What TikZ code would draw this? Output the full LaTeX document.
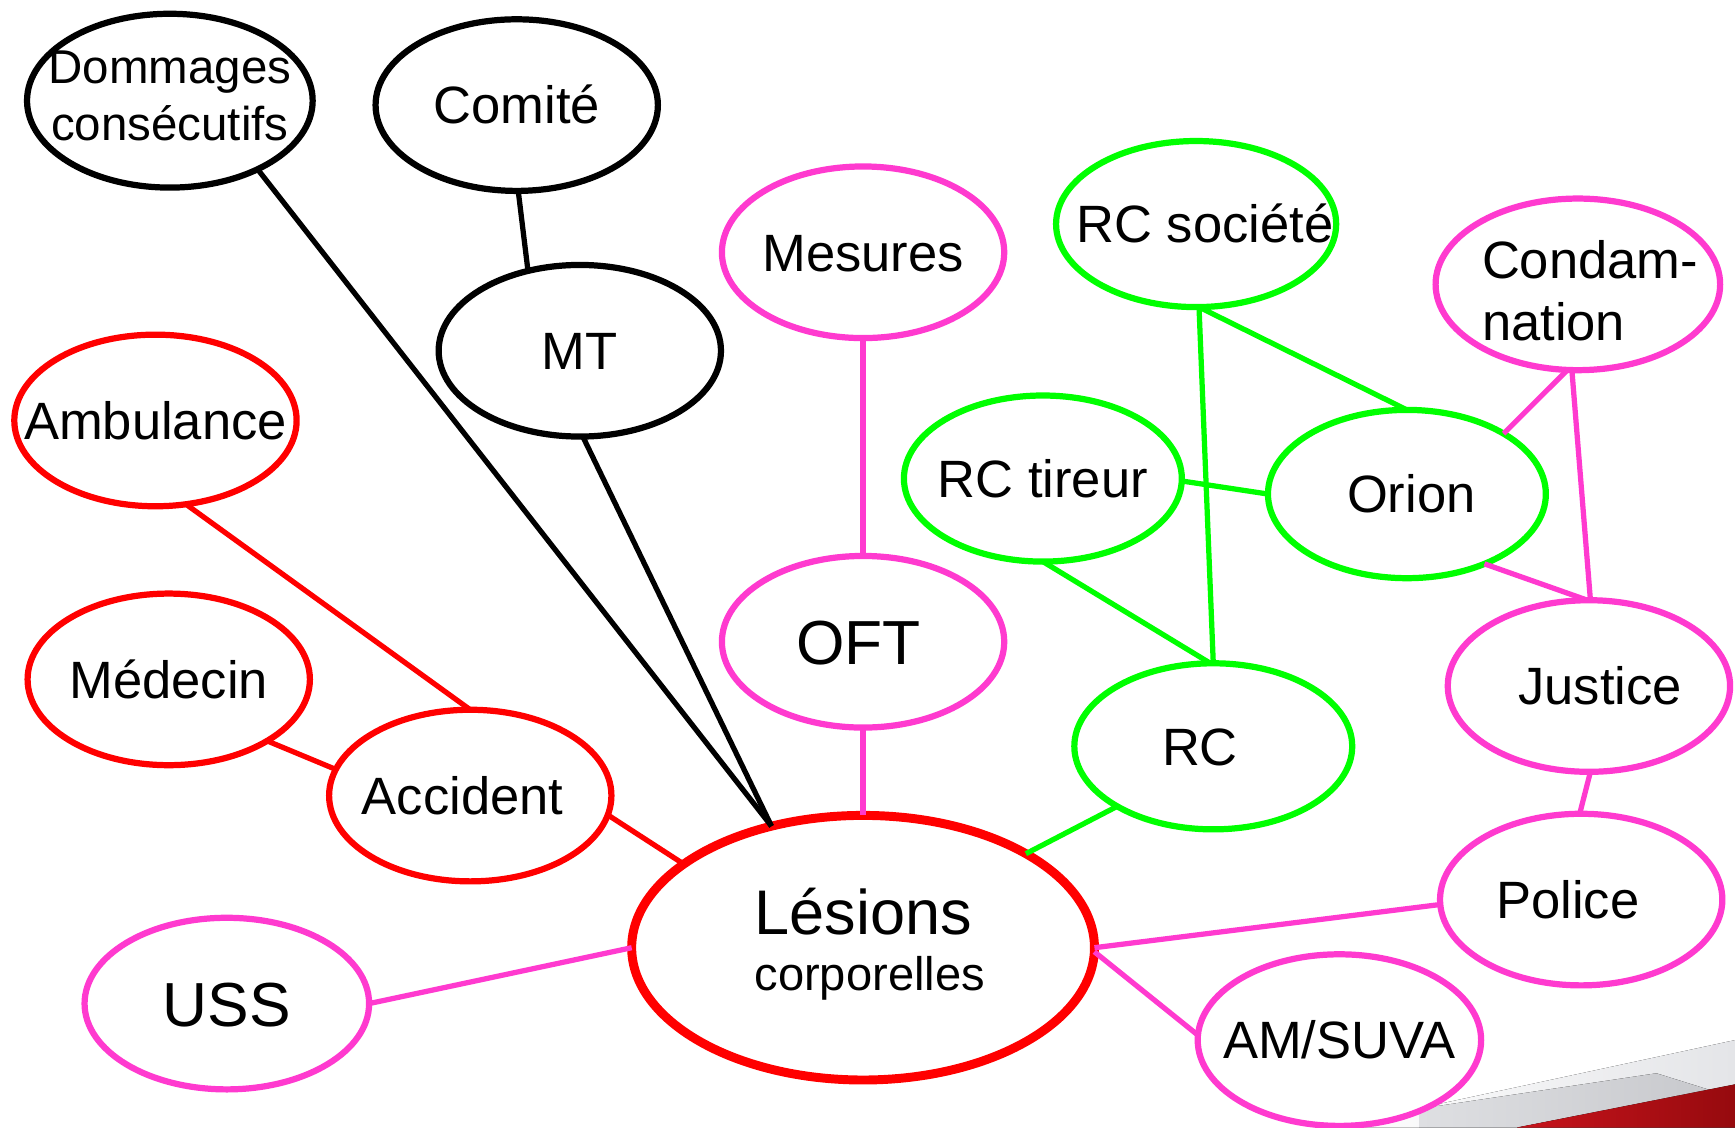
\documentclass[tikz,border=0pt]{standalone}
\usepackage{fontspec}
\setmainfont{Liberation Sans}
\usetikzlibrary{shapes.geometric}
\definecolor{mg}{RGB}{255,58,207}
\definecolor{gr}{RGB}{0,255,0}
\definecolor{rd}{RGB}{255,0,0}
\definecolor{decoredA}{RGB}{200,20,28}
\definecolor{decoredB}{RGB}{150,10,14}
\definecolor{decogreyA}{RGB}{255,255,255}
\definecolor{decogreyB}{RGB}{228,229,232}
\definecolor{decogreyC}{RGB}{222,223,226}
\definecolor{decogreyD}{RGB}{200,201,205}
\newcommand{\tx}[2]{\makebox[0pt]{\hspace*{#1}#2}}
\begin{document}
\begin{tikzpicture}[x=0.01cm,y=-0.01cm,
  el/.style={ellipse,draw=black,line width=1.6pt,fill=white,inner sep=0pt,outer sep=0pt,
    minimum width=2.55cm,minimum height=1.55cm,font=\fontsize{13.5}{16}\selectfont},
  one/.style={text height=0.34cm,text depth=0pt},
  big/.style={text height=0.405cm,text depth=0pt,font=\fontsize{16}{19}\selectfont},
  gel/.style={el,draw=gr,minimum width=2.51cm,minimum height=1.50cm},
  conn/.style={line width=1.35pt}
]
\useasboundingbox (0,0) rectangle (1568,1019);
% background decoration
\fill[left color=decogreyA,right color=decogreyB] (1202,1019) -- (1568,940) -- (1568,1019) -- cycle;
\fill[left color=decogreyC,right color=decogreyD] (1283,1002) -- (1497,970) -- (1545,985) -- (1371,1019) -- (1283,1019) -- cycle;
\fill[left color=decoredA,right color=decoredB] (1371,1019) -- (1568,980) -- (1568,1019) -- cycle;

% nodes
\node[el,minimum width=2.58cm,minimum height=1.57cm] (dom) at (153.5,91)
  {\tx{0pt}{\fontsize{12.2}{14.5}\selectfont\begin{tabular}{@{}c@{}}Dommages\\consécutifs\end{tabular}}};
\node[el,one] (com) at (467,95) {\tx{0pt}{Comité}};
\node[el,one] (mt) at (524,317) {\tx{0pt}{MT}};
\node[el,one,draw=rd] (amb) at (140.5,380) {\tx{0pt}{Ambulance}};
\node[el,one,draw=rd] (med) at (152.5,614) {\tx{0pt}{Médecin}};
\node[el,one,draw=rd] (acc) at (425,719) {\tx{-0.14cm}{Accident}};
\node[el,draw=rd,line width=2.3pt,minimum width=4.18cm,minimum height=2.39cm] (les) at (780,856.5)
  {\tx{0pt}{\fontsize{12.1}{14.5}\selectfont\begin{tabular}{@{}c@{}}{\fontsize{16.2}{19}\selectfont Lésions}\\\hspace*{0.12cm}corporelles\end{tabular}}};
\node[el,one,draw=mg] (mes) at (780,228) {\tx{0pt}{Mesures}};
\node[el,big,draw=mg] (oft) at (780,580) {\tx{-0.08cm}{OFT}};
\node[el,big,draw=mg,minimum width=2.57cm] (uss) at (205,907) {\tx{0pt}{USS}};
\node[el,draw=mg,minimum width=2.57cm] (con) at (1426,257)
  {\tx{0.22cm}{\fontsize{13.5}{15.9}\selectfont\raisebox{-0.24cm}[0pt][0pt]{\begin{tabular}{@{}l@{}}Condam-\\nation\end{tabular}}}};
\node[el,one,draw=mg] (jus) at (1436,620) {\tx{0.2cm}{Justice}};
\node[el,one,draw=mg] (pol) at (1429,813) {\tx{-0.24cm}{Police}};
\node[el,one,draw=mg,minimum width=2.56cm] (am) at (1210.5,940) {\tx{0pt}{AM/SUVA}};
\node[gel,one,minimum width=2.53cm] (soc) at (1081,202.5) {\tx{0.16cm}{RC société}};
\node[gel,one] (tir) at (942.5,432.5) {\tx{0pt}{RC tireur}};
\node[gel,one,minimum height=1.52cm] (ori) at (1271.5,446.5) {\tx{0.08cm}{Orion}};
\node[gel,one] (rc) at (1096.5,674.5) {\tx{-0.24cm}{RC}};

% connectors
\draw[conn,black] (dom.-38) -- (les.127);
\draw[conn,black] (com.-89) -- (mt.123);
\draw[conn,black] (mt.-88) -- (les.127);
\draw[conn,rd] (amb.-70) -- (acc.90);
\draw[conn,rd] (med.-32) -- (acc.169);
\draw[conn,rd] (acc.-8) -- (les.155);
\draw[conn,mg] (mes.-90) -- (oft.90);
\draw[conn,mg] (oft.-90) -- (les.90);
\draw[conn,mg] (uss.0) -- (les.180);
\draw[conn,mg] (les.0) -- (pol.182);
\draw[conn,mg] (les.-1) -- (am.178);
\draw[conn,mg] (con.-94) -- (jus.89);
\draw[conn,mg] (ori.32) -- (con.-97);
\draw[conn,mg] (ori.-42) -- (jus.91);
\draw[conn,mg] (jus.-89) -- (pol.91);
\draw[conn,gr] (soc.-88) -- (rc.90);
\draw[conn,gr] (soc.-88) -- (ori.90);
\draw[conn,gr] (tir.-1) -- (ori.180);
\draw[conn,gr] (tir.-90) -- (rc.92);
\draw[conn,gr] (rc.212) -- (les.30);
\end{tikzpicture}
\end{document}
